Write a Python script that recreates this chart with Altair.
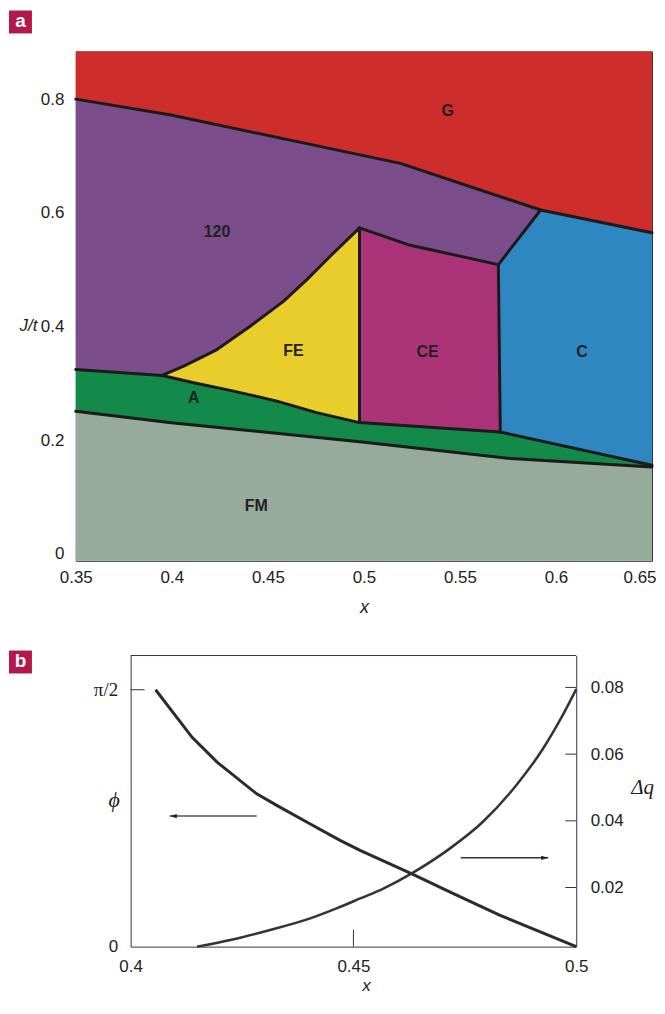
import math
import altair as alt
import pandas as pd

FONT = "Liberation Sans Narrow, Liberation Sans, Arial, sans-serif"
SERIF = "Liberation Serif, DejaVu Serif, serif"

# ---------------- Panel a : phase diagram ----------------
XA_MIN, XA_MAX = 0.35, 0.65
YA_MIN, YA_MAX = -0.012, 0.884

# phase boundaries (x, J/t)
b_g_120 = [(0.35, 0.80), (0.3996, 0.772), (0.519, 0.687), (0.592, 0.605)]
b_g_c = [(0.592, 0.605), (0.65, 0.565)]
b_120_c = [(0.592, 0.605), (0.570, 0.509)]
b_120_ce = [(0.570, 0.509), (0.523, 0.544), (0.4977, 0.5735)]
b_120_fe = [(0.395, 0.314), (0.4062, 0.3304), (0.4235, 0.3596), (0.4408, 0.4005),
            (0.4581, 0.4444), (0.4703, 0.4825), (0.4823, 0.5233), (0.4977, 0.5735)]
b_fe_ce = [(0.4977, 0.5735), (0.4977, 0.2311)]
b_ce_c = [(0.570, 0.509), (0.571, 0.2146)]
b_ce_a = [(0.4977, 0.2311), (0.571, 0.2146)]
b_c_a = [(0.571, 0.2146), (0.65, 0.156)]
b_a_fm = [(0.35, 0.251), (0.3996, 0.231), (0.499, 0.197), (0.5765, 0.168), (0.65, 0.153)]
b_120_a = [(0.35, 0.3246), (0.395, 0.314)]
b_fe_a = [(0.395, 0.314), (0.4114, 0.3012), (0.4322, 0.2865), (0.4547, 0.2689),
          (0.4754, 0.2486), (0.4977, 0.2311)]

region_names = ["G", "120", "FE", "CE", "C", "A", "FM"]
region_colors = ["#cd2e2b", "#7c4d8b", "#e8cd2b", "#ab3478", "#2f87c1", "#13894a", "#97ab9c"]
label_x = [0.5436, 0.4235, 0.4633, 0.5332, 0.6136, 0.4114, 0.4439]
label_y = [0.779, 0.567, 0.357, 0.356, 0.356, 0.275, 0.084]


def rev(p):
    return p[::-1]


polys = {
    "G": b_g_120 + b_g_c[1:] + [(XA_MAX, YA_MAX), (XA_MIN, YA_MAX)],
    "120": b_g_120 + b_120_c[1:] + b_120_ce[1:] + rev(b_120_fe)[1:] + rev(b_120_a)[1:],
    "FE": b_120_fe + b_fe_ce[1:] + rev(b_fe_a)[1:],
    "CE": rev(b_120_ce) + b_ce_c[1:] + rev(b_ce_a)[1:],
    "C": b_g_c + [(XA_MAX, b_c_a[-1][1])] + rev(b_c_a)[1:] + rev(b_ce_c)[1:] + rev(b_120_c)[1:],
    "A": b_120_a + b_fe_a[1:] + b_ce_a[1:] + b_c_a[1:] + rev(b_a_fm),
    "FM": b_a_fm + [(XA_MAX, YA_MIN), (XA_MIN, YA_MIN)],
}
rows = []
for name in region_names:
    pts = polys[name]
    pts = pts + [pts[0]]
    for i, (x, y) in enumerate(pts):
        rows.append({"region": name, "i": i, "x": x, "y": y})
poly_df = pd.DataFrame(rows)

bounds = {
    "g120": b_g_120, "gc": b_g_c, "120c": b_120_c, "120ce": b_120_ce, "120fe": b_120_fe,
    "fece": b_fe_ce, "cec": b_ce_c, "cea": b_ce_a, "ca": b_c_a, "afm": b_a_fm,
    "120a": b_120_a, "fea": b_fe_a,
}
brows = []
for name, pts in bounds.items():
    for i, (x, y) in enumerate(pts):
        brows.append({"seg": name, "i": i, "x": x, "y": y})
bound_df = pd.DataFrame(brows)

lab_df = pd.DataFrame({"text": region_names, "x": label_x, "y": label_y})

last_test = "datum.value >= 0.649"
xa = alt.X("x:Q", scale=alt.Scale(domain=[XA_MIN, XA_MAX], nice=False, zero=False),
           axis=alt.Axis(values=[0.35, 0.4, 0.45, 0.5, 0.55, 0.6, 0.65], format="~g",
                         domain=False, ticks=False, grid=False, labelFlush=False,
                         labelAlign={"condition": {"test": last_test, "value": "right"},
                                     "value": "center"},
                         labelOffset={"condition": {"test": last_test, "value": 4},
                                      "value": 0},
                         labelPadding=9, title="x", titleFontStyle="italic",
                         titleFontWeight="normal", titlePadding=13))
ya = alt.Y("y:Q", scale=alt.Scale(domain=[YA_MIN, YA_MAX], nice=False, zero=False),
           axis=alt.Axis(values=[0, 0.2, 0.4, 0.6, 0.8], format="~g", domain=False,
                         ticks=False, grid=False, labelPadding=12, title="J/t",
                         titleAngle=0, titleX=-48, titleY=275, titleAlign="center",
                         titleBaseline="middle", titleFontStyle="italic",
                         titleFontSize=17, titleFontWeight="normal"))

regions = alt.Chart(poly_df).mark_line(strokeOpacity=0, interpolate="linear").encode(
    x=xa, y=ya,
    fill=alt.Fill("region:N", scale=alt.Scale(domain=region_names, range=region_colors), legend=None),
    detail="region:N",
    order="i:Q",
)
lines = alt.Chart(bound_df).mark_line(color="#1b1b1b", strokeWidth=3, strokeJoin="round",
                                      strokeCap="round").encode(
    x=xa, y=ya, detail="seg:N", order="i:Q")
labels = alt.Chart(lab_df).mark_text(font=FONT, fontSize=16, fontWeight="bold",
                                     color="#222222").encode(
    x=xa, y=ya, text="text:N")

tag_a_df = pd.DataFrame({"tag": ["a"]})
tag_a_box = alt.Chart(tag_a_df).mark_rect(color="#b3184a").encode(
    x=alt.value(-67), x2=alt.value(-44), y=alt.value(-41), y2=alt.value(-18))
tag_a_txt = alt.Chart(tag_a_df).mark_text(color="white", fontSize=19, fontWeight="bold",
                                          font="Liberation Sans, Arial, sans-serif").encode(
    x=alt.value(-55.5), y=alt.value(-30), text="tag:N")

panel_a = alt.layer(regions, lines, labels, tag_a_box, tag_a_txt).properties(width=578, height=511)

# ---------------- Panel b ----------------
XB_MIN, XB_MAX = 0.4, 0.5
PHI_MAX = 1.780
DQ_MIN, DQ_MAX = 0.00227, 0.08957
B_W = 578
B_RANGE = [55, 502]          # pixel span of the b frame inside the shared-width view

phi_x = [0.4056, 0.4138, 0.4194, 0.4283, 0.4328, 0.4395, 0.4470, 0.4515, 0.4630,
         0.4716, 0.4828, 0.5]
phi_y = [1.5708, 1.280, 1.128, 0.934, 0.864, 0.762, 0.650, 0.589, 0.447,
         0.335, 0.193, 0.0]
dq_x = [0.4149, 0.4224, 0.4313, 0.4403, 0.4462, 0.4515, 0.4567, 0.4630, 0.4716,
        0.4790, 0.4865, 0.4925, 0.4969, 0.5]
dq_y = [0.00227, 0.00427, 0.00726, 0.01073, 0.01372, 0.01671, 0.01970, 0.02418,
        0.03166, 0.03964, 0.05061, 0.06155, 0.07154, 0.0795]
arrow_left = {"x": 0.4283, "x2": 0.4088, "phi": 0.7985}
arrow_right = {"x": 0.4741, "x2": 0.4937, "dq": 0.0289}
phi_ticks = [math.pi / 2]
dq_ticks = [0.02, 0.04, 0.06, 0.08]
x_ticks_b = [0.45]
frame_top = {"x": XB_MIN, "x2": XB_MAX}

phi_df = pd.DataFrame({"x": phi_x, "phi": phi_y})
dq_df = pd.DataFrame({"x": dq_x, "dq": dq_y})

xscale_b = alt.Scale(domain=[XB_MIN, XB_MAX], range=B_RANGE, nice=False, zero=False)
xb = alt.X("x:Q", scale=xscale_b,
           axis=alt.Axis(values=[0.4, 0.45, 0.5], format="~g", domain=True,
                         domainColor="#333333", domainWidth=1, ticks=False,
                         grid=False, labelFlush=False, labelPadding=12, title="x",
                         titleX=291, titleAlign="center", titleFontSize=17,
                         titleFontStyle="italic", titleFontWeight="normal", titlePadding=3))
yphi = alt.Y("phi:Q", scale=alt.Scale(domain=[0, PHI_MAX], nice=False, zero=False),
             axis=alt.Axis(orient="left", offset=-B_RANGE[0], values=[0, math.pi / 2],
                           labelExpr="datum.value == 0 ? '0' : 'π/2'", domain=True,
                           domainColor="#333333", domainWidth=1,
                           ticks=False, grid=False, labelPadding=13,
                           labelFont={"condition": {"test": "datum.value == 0", "value": FONT},
                                      "value": SERIF},
                           labelFontSize={"condition": {"test": "datum.value == 0", "value": 17},
                                          "value": 19},
                           title="ϕ", titleAngle=0, titleX=-17, titleY=144,
                           titleAlign="center", titleBaseline="middle",
                           titleFontStyle="italic", titleFontWeight="normal",
                           titleFontSize=22, titleFont=SERIF))
ydq = alt.Y("dq:Q", scale=alt.Scale(domain=[DQ_MIN, DQ_MAX], nice=False, zero=False),
            axis=alt.Axis(orient="right", offset=B_RANGE[1] - B_W, values=dq_ticks,
                          format="~g", domain=True, domainColor="#333333", domainWidth=1,
                          ticks=False, grid=False, labelPadding=14, title="Δq",
                          titleAngle=0, titleX=66, titleY=132, titleAlign="center",
                          titleBaseline="middle", titleFontStyle="italic",
                          titleFontWeight="normal", titleFontSize=21, titleFont=SERIF))

phi_line = alt.Chart(phi_df).mark_line(color="#2b2b2b", strokeWidth=3).encode(x=xb, y=yphi)
al_df = pd.DataFrame([arrow_left])
al_rule = alt.Chart(al_df).mark_rule(color="#555555", strokeWidth=1.5).encode(
    x=xb, x2="x2:Q", y=yphi)
al_head = alt.Chart(al_df).mark_point(shape="M 0 0 L 2 -0.6 L 2 0.6 Z", filled=True,
                                      color="#222222", size=49, opacity=1).encode(
    x=alt.X("x2:Q", scale=xscale_b), y=yphi)
phi_tick_df = pd.DataFrame({"phi": phi_ticks})
phi_tick = alt.Chart(phi_tick_df).mark_rule(color="#333333", strokeWidth=1).encode(
    y=yphi, x=alt.value(B_RANGE[0]), x2=alt.value(B_RANGE[0] + 14))
xt_df = pd.DataFrame({"x": x_ticks_b})
x_tick = alt.Chart(xt_df).mark_rule(color="#333333", strokeWidth=1).encode(
    x=xb, y=alt.value(275), y2=alt.value(292))
top_df = pd.DataFrame([frame_top])
top_line = alt.Chart(top_df).mark_rule(color="#333333", strokeWidth=1).encode(
    x=xb, x2="x2:Q", y=alt.value(0))
tag_b_df = pd.DataFrame({"tag": ["b"]})
tag_b_box = alt.Chart(tag_b_df).mark_rect(color="#b3184a").encode(
    x=alt.value(-67), x2=alt.value(-44), y=alt.value(-5), y2=alt.value(18))
tag_b_txt = alt.Chart(tag_b_df).mark_text(color="white", fontSize=19, fontWeight="bold",
                                          font="Liberation Sans, Arial, sans-serif").encode(
    x=alt.value(-55.5), y=alt.value(6), text="tag:N")

left_layer = alt.layer(phi_line, al_rule, al_head, phi_tick, x_tick, top_line,
                       tag_b_box, tag_b_txt)

dq_line = alt.Chart(dq_df).mark_line(color="#333333", strokeWidth=2.5,
                                     interpolate="monotone").encode(x=xb, y=ydq)
ar_df = pd.DataFrame([arrow_right])
ar_rule = alt.Chart(ar_df).mark_rule(color="#333333", strokeWidth=1.5).encode(
    x=xb, x2="x2:Q", y=ydq)
ar_head = alt.Chart(ar_df).mark_point(shape="M 0 0 L -2 -0.6 L -2 0.6 Z", filled=True,
                                      color="#222222", size=49, opacity=1).encode(
    x=alt.X("x2:Q", scale=xscale_b), y=ydq)
dq_tick_df = pd.DataFrame({"dq": dq_ticks})
dq_tick = alt.Chart(dq_tick_df).mark_rule(color="#333333", strokeWidth=1).encode(
    y=ydq, x=alt.value(B_RANGE[1] - 11), x2=alt.value(B_RANGE[1]))

right_layer = alt.layer(dq_line, ar_rule, ar_head, dq_tick)

panel_b = alt.layer(left_layer, right_layer).resolve_scale(y="independent").properties(
    width=B_W, height=292, view=alt.ViewBackground(stroke="transparent"))

chart = alt.vconcat(panel_a, panel_b, spacing=32).properties(
    padding={"left": 0, "top": 0, "right": 0, "bottom": -2}
).configure_view(stroke="#333333", strokeWidth=1).configure_axis(
    labelFont=FONT, titleFont=FONT, labelFontSize=17, titleFontSize=18,
    labelColor="#222222", titleColor="#222222"
)

chart.save("out.html", embed_options={"renderer": "svg", "actions": False})
